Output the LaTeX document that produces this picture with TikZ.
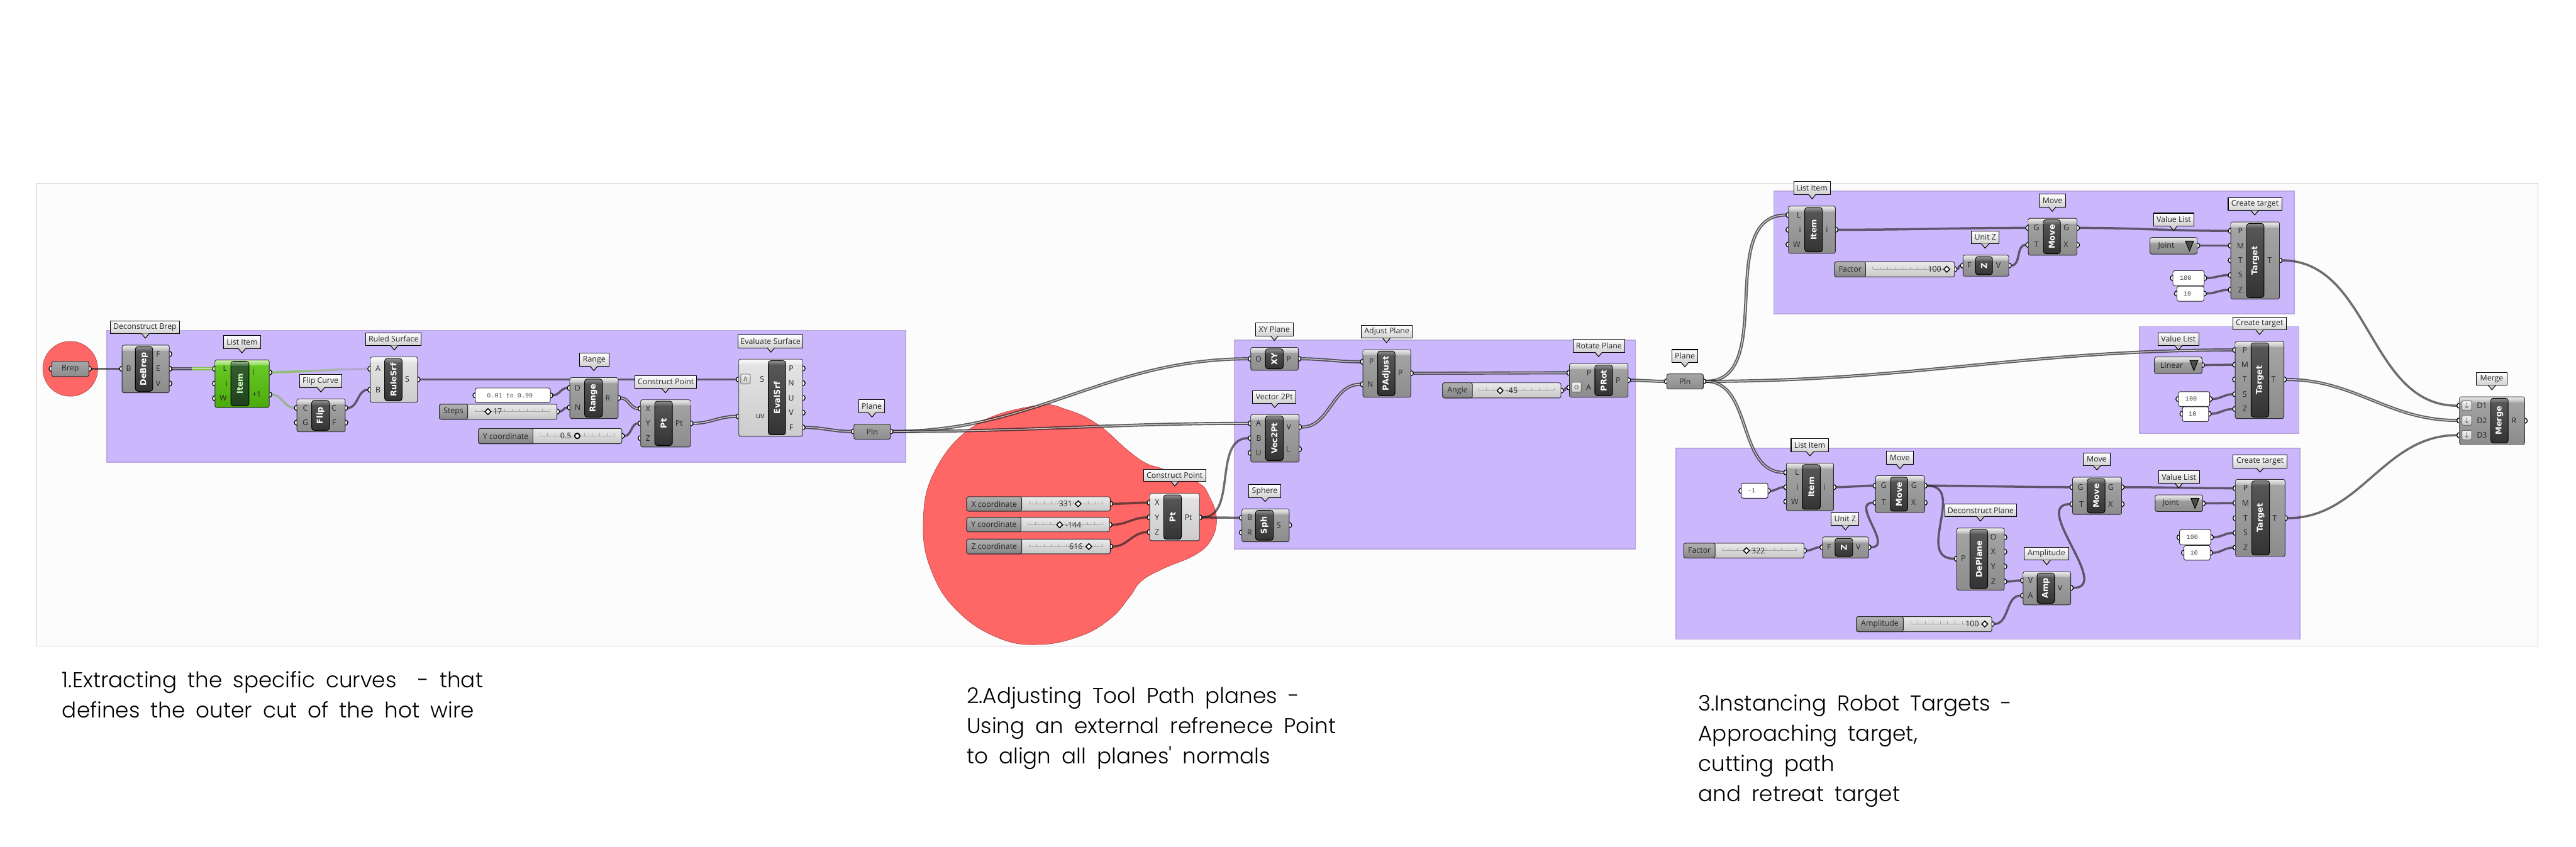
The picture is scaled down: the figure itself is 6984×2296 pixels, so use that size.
\documentclass[tikz,border=0pt]{standalone}
\usepackage{fontspec}
\usetikzlibrary{arrows.meta,positioning,calc,shapes.geometric}
\newfontfamily\gfont{Open Sans}
\newfontfamily\gbold{DejaVu Sans}
\newfontfamily\gmono{Liberation Mono}
\newfontfamily\notefont[WordSpace=1.8]{Poppins Light}
\definecolor{grpviolet}{RGB}{203,183,252}
\definecolor{grpedge}{RGB}{185,165,225}
\definecolor{gwirecol}{RGB}{35,35,35}
\definecolor{gwiregreen}{RGB}{120,195,50}
\definecolor{gedge}{RGB}{40,40,45}
\definecolor{redmark}{RGB}{255,102,102}
\pgfdeclarelayer{bglayer}
\pgfdeclarelayer{wirelayer}
\pgfdeclarelayer{portlayer}
\pgfsetlayers{bglayer,wirelayer,portlayer,main}
\tikzset{
  x=0.01cm, y=-0.01cm,
  graybody/.style={rounded corners=1.4pt, draw=gedge, line width=.45pt, top color=black!35, bottom color=black!45, inner sep=0, outer sep=0},
  litebody/.style={rounded corners=1.4pt, draw=gedge, line width=.45pt, top color=black!10, bottom color=black!20, inner sep=0, outer sep=0},
  limebody/.style={rounded corners=1.4pt, draw=gedge, line width=.45pt, top color={rgb,255:red,105;green,205;blue,40}, bottom color={rgb,255:red,75;green,170;blue,10}, inner sep=0, outer sep=0},
  panelbody/.style={rounded corners=1.4pt, draw=gedge, line width=.45pt, fill=white, inner sep=0, outer sep=0},
  grayband/.style={top color=black!8, bottom color=black!28},
  liteband/.style={top color=black!2, bottom color=black!10},
  limeband/.style={top color={rgb,255:red,205;green,240;blue,170}, bottom color={rgb,255:red,140;green,215;blue,85}},
  graycap/.style={rounded corners=2pt, draw=black, line width=.5pt, top color=black!65, bottom color=black!80, inner sep=0, outer sep=0},
  litecap/.style={graycap},
  limecap/.style={rounded corners=2pt, draw=black, line width=.5pt, top color={rgb,255:red,55;green,95;blue,50}, bottom color={rgb,255:red,30;green,65;blue,30}, inner sep=0, outer sep=0},
  graycapband/.style={top color=black!45, bottom color=black!65},
  litecapband/.style={graycapband},
  limecapband/.style={top color={rgb,255:red,150;green,185;blue,140}, bottom color={rgb,255:red,60;green,100;blue,55}},
  graycaptxt/.style={font=\gbold\bfseries\fontsize{6.2}{7}\selectfont, text=white, inner sep=0},
  litecaptxt/.style={graycaptxt},
  limecaptxt/.style={graycaptxt, text={rgb,255:red,205;green,255;blue,190}},
  gtxt/.style={font=\gfont\fontsize{6}{7}\selectfont, text=black!85, inner sep=0},
  gval/.style={font=\gmono\fontsize{4.9}{6}\selectfont, text=black!75, inner sep=0},
  portnode/.style={circle, draw=black, fill=white, line width=.6pt, minimum size=.14cm, inner sep=0, outer sep=0},
  ballbox/.style={draw=black, line width=.5pt, top color=white, bottom color=black!18, inner sep=0, outer sep=0, font=\gfont\fontsize{6}{7}\selectfont, text=black!85},
  sliderbody/.style={rounded corners=1.4pt, draw=gedge, line width=.45pt, top color=black!8, bottom color=black!22, inner sep=0, outer sep=0},
  sliderlabel/.style={rounded corners=1.4pt, draw=gedge, line width=.45pt, top color=black!30, bottom color=black!48, inner sep=0, outer sep=0, gtxt},
  tickline/.style={draw=black!35, line width=.25pt},
  knobd/.style={diamond, draw=black, fill=white, line width=.7pt, minimum size=.17cm, inner sep=0},
  knobc/.style={circle, draw=black, fill=white, line width=.9pt, minimum width=.1cm, minimum height=.14cm, inner sep=0},
  btnnode/.style={rounded corners=1pt, draw=black!65, line width=.35pt, top color=black!5, bottom color=black!22, inner sep=0, font=\gbold\fontsize{6}{7}\selectfont, text=black!60},
  grpbox/.style={draw=grpedge, line width=.8pt, fill=grpviolet, inner sep=0, outer sep=0},
  framebox/.style={draw=black!18, line width=.7pt, fill=black!1, inner sep=0, outer sep=0},
  redcirc/.style={circle, draw=black!40!redmark, line width=.25pt, fill=redmark, inner sep=0},
  wire/.style={draw=gwirecol, draw opacity=.66, line width=1.7pt},
  listwire/.style={draw=gwirecol, draw opacity=.72, line width=.9pt, double=white, double distance=.6pt},
  notetxt/.style={font=\notefont\fontsize{16.6}{23.3}\selectfont, align=left, anchor=north west, inner sep=0, text=black},
}
\newcommand{\gbox}[6]{%
  \node[#1, minimum width={((#5)-(#3))*0.01cm}, minimum height={((#6)-(#4))*0.01cm}] (#2) at ({((#3)+(#5))/2},{((#4)+(#6))/2}) {};}
\newcommand{\gcomp}[9]{%
  \gbox{#1body}{#2}{#3}{#4}{#5}{#6}
  \path[#1band] (#3+1,#4+15) [rounded corners=1.2pt] -- (#3+1,#4+1) -- (#5-1,#4+1) [sharp corners] -- (#5-1,#4+15) -- cycle;
  \gbox{#1cap}{#2-cap}{#7}{#4+4}{#8}{#6-4}
  \path[#1capband] (#7+1,#4+16) [rounded corners=1.6pt] -- (#7+1,#4+5) -- (#8-1,#4+5) [sharp corners] -- (#8-1,#4+16) -- cycle;
  \node[#1captxt, rotate=90] (#2-name) at (#2-cap.center) {#9};}
\newcommand{\gports}[3]{%
  \foreach \pid/\py/\plab/\lx in {#3}{
    \begin{pgfonlayer}{portlayer}\node[portnode] (#1-\pid) at (#2,\py) {};\end{pgfonlayer}
    \node[gtxt] (#1-\pid-l) at (\lx,\py) {\plab};}}
\newcommand{\gparam}[7]{%
  \gbox{#1}{#2}{#3}{#4}{#5}{#6}
  \node[gtxt] (#2-t) at (#2.center) {#7};}
\newcommand{\gpanel}[6]{%
  \gbox{panelbody}{#1}{#2}{#3}{#4}{#5}
  \node[gval, xshift=-.08cm] (#1-t) at (#1.center) {#6};}
\newcommand{\glist}[8]{%
  \gbox{graybody}{#1}{#2}{#3}{#4}{#5}
  \path[grayband] (#2+1,#3+15) [rounded corners=1.2pt] -- (#2+1,#3+1) -- (#4-1,#3+1) [sharp corners] -- (#4-1,#3+15) -- cycle;
  \node[gtxt] (#1-t) at (#7,{((#3)+(#5))/2}) {#6};
  \draw[fill=black!70, draw=black, line width=.5pt] (#8-11,{((#3)+(#5))/2-13}) -- (#8+11,{((#3)+(#5))/2-13}) -- (#8,{((#3)+(#5))/2+14}) -- cycle;}
\newcommand{\gslider}[7]{%
  \gbox{sliderbody}{#1}{#2}{#3}{#4}{#5}
  \gbox{sliderlabel}{#1-lab}{#2}{#3}{#6}{#5}
  \node[gtxt] (#1-t) at (#1-lab.center) {#7};}
\newcommand{\gknob}[8]{%
  \foreach \tk in {0,...,10}{\draw[tickline] ({#6+(#7-#6)*\tk/10},#8-7) -- ({#6+(#7-#6)*\tk/10},#8);}
  \draw[tickline] (#6,#8) -- (#7,#8);
  \node[gtxt] (#1-val) at (#3,#8) {#2};
  \node[#5] (#1-knob) at (#4,#8) {};}
\newcommand{\gballoon}[8]{%
  \gbox{ballbox}{#1}{#2}{#3}{#4}{#5}
  \node[gtxt] (#1-t) at (#1.center) {#8};
  \fill[black!18] (#6-10,#5-.5) -- (#6,#7) -- (#6+10,#5-.5) -- cycle;
  \draw[black, line width=.5pt] (#6-10,#5) -- (#6,#7) -- (#6+10,#5);}
\begin{document}
\begin{tikzpicture}
  \useasboundingbox (0,0) rectangle (6984,2296);
  \begin{pgfonlayer}{bglayer}
    \gbox{framebox}{frame}{100}{497}{6881}{1752}
    \gbox{grpbox}{grpA}{290}{896}{2455}{1253}
    \gbox{grpbox}{grpB}{3346}{922}{4434}{1489}
    \gbox{grpbox}{grpC}{4809}{518}{6220}{851}
    \gbox{grpbox}{grpD}{5801}{886}{6233}{1175}
    \gbox{grpbox}{grpE}{4544}{1216}{6235}{1733}
    \node[redcirc, minimum size=1.49cm] (brepmark) at (190.5,1000) {};
    \fill[redmark, draw=black!40!redmark, line width=.25pt] plot[smooth cycle, tension=.7] coordinates {
      (2807,1100) (2896,1112) (2979,1153) (3056,1220) (3107,1256) (3151,1271) (3247,1308) (3279,1347) (3298,1404)
      (3285,1461) (3241,1504) (3151,1543) (3094,1576) (3062,1619) (3011,1677) (2928,1725) (2814,1748) (2705,1729)
      (2597,1658) (2527,1552) (2503,1423) (2533,1280) (2641,1155)};
  \end{pgfonlayer}

  % first group
  \gparam{graybody}{brep}{140}{980}{241}{1021}{Brep}
  \gports{brep}{140}{in/1000//0} \gports{brep}{241}{out/1000//0}
  \gcomp{gray}{debrep}{331}{936}{459}{1065}{367}{414}{DeBrep}
  \gports{debrep}{331}{B/1000/B/349}
  \gports{debrep}{459}{F/960/F/429,E/1000/E/429,V/1040/V/429}
  \gcomp{lime}{itema}{583}{976}{730}{1105}{626}{675}{Item}
  \gports{itema}{583}{L/1000/L/610,i/1040/i/614,W/1080/W/605}
  \gports{itema}{730}{o/1010/i/687,p/1070/+1/696}
  \gcomp{gray}{flip}{805}{1082}{936}{1171}{845}{893}{Flip}
  \gports{flip}{805}{C/1106/C/828,G/1146/G/828}
  \gports{flip}{936}{o/1106/C/906,F/1146/F/906}
  \gcomp{lite}{ruled}{1004}{968}{1132}{1091}{1043}{1090}{RuleSrf}
  \gports{ruled}{1004}{A/1000/A/1025,B/1057/B/1025}
  \gports{ruled}{1132}{S/1029/S/1104}
  \gpanel{rngpanel}{1289}{1052}{1492}{1092}{0.01 to 0.99}
  \gports{rngpanel}{1289}{in/1072//0} \gports{rngpanel}{1492}{out/1072//0}
  \gslider{steps}{1191}{1096}{1510}{1137}{1268}{Steps}
  \gknob{steps}{17}{1349}{1323}{knobd}{1287}{1490}{1116}
  \gports{steps}{1510}{out/1116//0}
  \gcomp{gray}{range}{1545}{1024}{1676}{1135}{1585}{1633}{Range}
  \gports{range}{1545}{D/1052/D/1566,N/1105/N/1566}
  \gports{range}{1676}{R/1079/R/1648}
  \gslider{ycoorda}{1297}{1162}{1686}{1203}{1445}{Y coordinate}
  \gknob{ycoorda}{0.5}{1534}{1565}{knobc}{1463}{1666}{1182}
  \gports{ycoorda}{1686}{out/1182//0}
  \gcomp{gray}{pta}{1737}{1084}{1872}{1212}{1775}{1823}{Pt}
  \gports{pta}{1737}{X/1108/X/1757,Y/1148/Y/1757,Z/1188/Z/1757}
  \gports{pta}{1872}{P/1148/Pt/1841}
  \gcomp{lite}{evalsrf}{2003}{974}{2176}{1183}{2083}{2130}{EvalSrf}
  \gports{evalsrf}{2003}{S/1029/S/2066,uv/1129/uv/2061}
  \gports{evalsrf}{2176}{P/999/P/2145,N/1039/N/2145,U/1079/U/2145,V/1119/V/2145,F/1159/F/2145}
  \node[btnnode, minimum width=.26cm, minimum height=.27cm] (evalbtn) at (2021,1028) {∧};
  \gparam{graybody}{plna}{2315}{1150}{2414}{1191}{Pln}
  \gports{plna}{2315}{in/1170//0} \gports{plna}{2414}{out/1170//0}

  % reference point
  \gslider{xref}{2621}{1347}{3010}{1386}{2770}{X coordinate}
  \gknob{xref}{331}{2889}{2923}{knobd}{2790}{2990}{1366}
  \gports{xref}{3010}{out/1366//0}
  \gslider{yref}{2621}{1403}{3008}{1442}{2768}{Y coordinate}
  \gknob{yref}{-144}{2910}{2873}{knobd}{2787}{2988}{1423}
  \gports{yref}{3008}{out/1423//0}
  \gslider{zref}{2621}{1462}{3010}{1502}{2770}{Z coordinate}
  \gknob{zref}{616}{2917}{2952}{knobd}{2790}{2990}{1482}
  \gports{zref}{3010}{out/1482//0}
  \gcomp{lite}{ptb}{3117}{1338}{3252}{1466}{3155}{3203}{Pt}
  \gports{ptb}{3117}{X/1363/X/3137,Y/1403/Y/3137,Z/1443/Z/3137}
  \gports{ptb}{3252}{P/1403/Pt/3222}

  % second group
  \gcomp{gray}{xyp}{3391}{942}{3520}{1004}{3431}{3479}{XY}
  \gports{xyp}{3391}{O/973/O/3412} \gports{xyp}{3520}{P/973/P/3494}
  \gcomp{gray}{padj}{3695}{948}{3825}{1077}{3735}{3782}{PAdjust}
  \gports{padj}{3695}{P/981/P/3718,N/1042/N/3715} \gports{padj}{3825}{o/1012/P/3797}
  \gcomp{gray}{vec}{3391}{1124}{3522}{1253}{3431}{3479}{Vec2Pt}
  \gports{vec}{3391}{A/1148/A/3412,B/1188/B/3413,U/1228/U/3412}
  \gports{vec}{3522}{V/1158/V/3494,L/1218/L/3492}
  \gcomp{gray}{sph}{3367}{1380}{3495}{1469}{3404}{3452}{Sph}
  \gports{sph}{3367}{B/1404/B/3388,R/1444/R/3388} \gports{sph}{3495}{S/1424/S/3467}
  \gslider{angle}{3911}{1038}{4232}{1079}{3992}{Angle}
  \gknob{angle}{-45}{4099}{4067}{knobd}{4009}{4213}{1059}
  \gports{angle}{4232}{out/1059//0}
  \gcomp{gray}{prot}{4255}{986}{4414}{1077}{4324}{4372}{PRot}
  \gports{prot}{4255}{P/1011/P/4308,A/1051/A/4307} \gports{prot}{4414}{o/1031/P/4387}
  \node[btnnode, minimum width=.26cm, minimum height=.27cm] (protbtn) at (4274,1050) {o};
  \gparam{graybody}{plnb}{4519}{1014}{4618}{1055}{Pln}
  \gports{plnb}{4519}{in/1034//0} \gports{plnb}{4618}{out/1034//0}

  % top group
  \gcomp{gray}{itemb}{4849}{559}{4976}{687}{4893}{4941}{Item}
  \gports{itemb}{4849}{L/583/L/4877,i/623/i/4880,W/663/W/4871} \gports{itemb}{4976}{o/623/i/4953}
  \gslider{facta}{4974}{710}{5299}{751}{5058}{Factor}
  \gknob{facta}{100}{5245}{5278}{knobd}{5077}{5279}{730}
  \gports{facta}{5299}{out/730//0}
  \gcomp{gray}{unita}{5322}{692}{5446}{749}{5356}{5402}{Z}
  \gports{unita}{5322}{F/720/F/5339} \gports{unita}{5446}{V/720/V/5418}
  \gcomp{gray}{movea}{5499}{592}{5631}{692}{5540}{5586}{Move}
  \gports{movea}{5499}{G/618/G/5521,T/664/T/5521} \gports{movea}{5631}{o/618/G/5602,X/664/X/5601}
  \glist{jointa}{5829}{644}{5957}{689}{Joint}{5873}{5936}
  \gports{jointa}{5957}{out/666//0}
  \gpanel{spda}{5891}{734}{5976}{775}{100}
  \gports{spda}{5891}{in/754//0} \gports{spda}{5976}{out/754//0}
  \gpanel{zona}{5902}{776}{5975}{817}{10}
  \gports{zona}{5902}{in/796//0} \gports{zona}{5975}{out/796//0}
  \gcomp{gray}{tgta}{6048}{602}{6180}{811}{6091}{6138}{Target}
  \gports{tgta}{6048}{P/626/P/6074,M/666/M/6074,T/706/T/6074,S/746/S/6074,Z/786/Z/6074}
  \gports{tgta}{6180}{o/706/T/6153}

  % middle group
  \glist{linear}{5841}{968}{5970}{1013}{Linear}{5888}{5948}
  \gports{linear}{5970}{out/990//0}
  \gpanel{spdb}{5906}{1062}{5991}{1102}{100}
  \gports{spdb}{5906}{in/1082//0} \gports{spdb}{5991}{out/1082//0}
  \gpanel{zonb}{5917}{1103}{5988}{1143}{10}
  \gports{zonb}{5917}{in/1122//0} \gports{zonb}{5988}{out/1122//0}
  \gcomp{gray}{tgtb}{6060}{926}{6192}{1135}{6103}{6151}{Target}
  \gports{tgtb}{6060}{P/949/P/6086,M/989/M/6086,T/1029/T/6086,S/1069/S/6086,Z/1109/Z/6086}
  \gports{tgtb}{6192}{o/1029/T/6164}

  % bottom group
  \gpanel{idx}{4721}{1310}{4793}{1351}{-1}
  \gports{idx}{4721}{in/1331//0} \gports{idx}{4793}{out/1331//0}
  \gcomp{gray}{itemc}{4843}{1256}{4971}{1385}{4886}{4935}{Item}
  \gports{itemc}{4843}{L/1281/L/4872,i/1321/i/4873,W/1360/W/4866} \gports{itemc}{4971}{o/1321/i/4946}
  \gslider{factb}{4565}{1473}{4891}{1513}{4650}{Factor}
  \gknob{factb}{322}{4767}{4735}{knobd}{4669}{4870}{1493}
  \gports{factb}{4891}{out/1493//0}
  \gcomp{gray}{unitb}{4941}{1456}{5066}{1513}{4975}{5023}{Z}
  \gports{unitb}{4941}{F/1484/F/4959} \gports{unitb}{5066}{V/1484/V/5038}
  \gcomp{gray}{moveb}{5085}{1290}{5218}{1390}{5125}{5172}{Move}
  \gports{moveb}{5085}{G/1317/G/5107,T/1363/T/5107} \gports{moveb}{5218}{o/1317/G/5189,X/1363/X/5188}
  \gcomp{gray}{deplane}{5305}{1432}{5434}{1600}{5341}{5389}{DePlane}
  \gports{deplane}{5305}{P/1515/P/5323}
  \gports{deplane}{5434}{O/1457/O/5404,X/1496/X/5404,Y/1536/Y/5404,Z/1577/Z/5404}
  \gslider{ampl}{5033}{1672}{5400}{1713}{5160}{Amplitude}
  \gknob{ampl}{100}{5347}{5381}{knobd}{5180}{5380}{1692}
  \gports{ampl}{5400}{out/1692//0}
  \gcomp{gray}{amp}{5485}{1550}{5614}{1640}{5523}{5570}{Amp}
  \gports{amp}{5485}{V/1574/V/5505,A/1615/A/5505} \gports{amp}{5614}{o/1594/V/5585}
  \gcomp{gray}{movec}{5619}{1294}{5752}{1395}{5659}{5707}{Move}
  \gports{movec}{5619}{G/1321/G/5640,T/1367/T/5643} \gports{movec}{5752}{o/1321/G/5723,X/1367/X/5722}
  \glist{jointb}{5843}{1342}{5972}{1387}{Joint}{5885}{5951}
  \gports{jointb}{5972}{out/1365//0}
  \gpanel{spdc}{5909}{1436}{5994}{1477}{100}
  \gports{spdc}{5909}{in/1457//0} \gports{spdc}{5994}{out/1457//0}
  \gpanel{zonc}{5921}{1479}{5992}{1519}{10}
  \gports{zonc}{5921}{in/1499//0} \gports{zonc}{5992}{out/1499//0}
  \gcomp{gray}{tgtc}{6061}{1300}{6195}{1509}{6105}{6153}{Target}
  \gports{tgtc}{6061}{P/1324/P/6088,M/1364/M/6088,T/1405/T/6088,S/1445/S/6088,Z/1485/Z/6088}
  \gports{tgtc}{6195}{o/1405/T/6167}

  \gcomp{gray}{merge}{6668}{1076}{6845}{1205}{6753}{6800}{Merge}
  \gports{merge}{6668}{A/1100/D1/6729,B/1140/D2/6729,C/1180/D3/6729}
  \gports{merge}{6845}{R/1141/R/6816}
  \foreach \by/\bn in {1100/bd1,1140/bd2,1180/bd3}{
    \node[btnnode, minimum width=.26cm, minimum height=.26cm] (\bn) at (6688,\by) {↓};}

  % balloons
  \gballoon{tipA}{300}{870}{486}{905}{394}{917}{Deconstruct Brep}
  \gballoon{tipB}{606}{910}{707}{945}{656}{957}{List Item}
  \gballoon{tipC}{992}{902}{1142}{937}{1069}{949}{Ruled Surface}
  \gballoon{tipD}{812}{1016}{926}{1051}{870}{1063}{Flip Curve}
  \gballoon{tipE}{1571}{958}{1651}{993}{1610}{1005}{Range}
  \gballoon{tipF}{1721}{1018}{1889}{1053}{1804}{1065}{Construct Point}
  \gballoon{tipG}{2001}{908}{2177}{943}{2090}{955}{Evaluate Surface}
  \gballoon{tipH}{2329}{1084}{2398}{1119}{2364}{1131}{Plane}
  \gballoon{tipI}{3100}{1272}{3269}{1306}{3185}{1318}{Construct Point}
  \gballoon{tipJ}{3404}{876}{3506}{911}{3455}{923}{XY Plane}
  \gballoon{tipK}{3691}{882}{3829}{917}{3759}{929}{Adjust Plane}
  \gballoon{tipL}{3396}{1059}{3514}{1093}{3456}{1105}{Vector 2Pt}
  \gballoon{tipM}{3386}{1314}{3472}{1349}{3430}{1360}{Sphere}
  \gballoon{tipN}{4265}{920}{4405}{955}{4334}{967}{Rotate Plane}
  \gballoon{tipO}{4533}{948}{4603}{983}{4568}{995}{Plane}
  \gballoon{tipP}{4863}{492}{4962}{527}{4913}{539}{List Item}
  \gballoon{tipQ}{5529}{526}{5600}{561}{5564}{573}{Move}
  \gballoon{tipR}{5345}{626}{5420}{661}{5382}{673}{Unit Z}
  \gballoon{tipS}{5839}{578}{5948}{613}{5893}{625}{Value List}
  \gballoon{tipT}{6041}{536}{6186}{571}{6113}{583}{Create target}
  \gballoon{tipU}{5851}{902}{5961}{937}{5906}{949}{Value List}
  \gballoon{tipV}{6053}{860}{6199}{895}{6126}{907}{Create target}
  \gballoon{tipW}{4856}{1190}{4957}{1225}{4907}{1236}{List Item}
  \gballoon{tipX}{5114}{1224}{5187}{1259}{5151}{1271}{Move}
  \gballoon{tipY}{4965}{1390}{5040}{1425}{5003}{1437}{Unit Z}
  \gballoon{tipZ}{5273}{1367}{5467}{1401}{5369}{1413}{Deconstruct Plane}
  \gballoon{tipAa}{5488}{1484}{5608}{1519}{5549}{1531}{Amplitude}
  \gballoon{tipAb}{5648}{1228}{5721}{1263}{5685}{1274}{Move}
  \gballoon{tipAc}{5852}{1276}{5963}{1311}{5907}{1323}{Value List}
  \gballoon{tipAd}{6054}{1234}{6201}{1269}{6127}{1280}{Create target}
  \gballoon{tipAe}{6714}{1010}{6797}{1045}{6756}{1057}{Merge}

  % connectors
  \begin{pgfonlayer}{wirelayer}
    \coordinate (dbmid) at (520,1000);
    \coordinate (itmid) at (845,1006);
    \coordinate (itmid2) at (922,1002);
    \draw[wire] (brep-out) -- (debrep-B);
    \draw[listwire] (debrep-E) -- (dbmid);
    \draw[listwire, draw=gwiregreen, draw opacity=.9] (dbmid) -- (itema-L);
    \draw[wire, draw=gwiregreen] (itema-o) -- (itmid);
    \draw[wire, draw={rgb,255:red,150;green,180;blue,120}] (itmid) -- (itmid2);
    \draw[wire, draw={rgb,255:red,165;green,160;blue,190}] (itmid2) -- (ruled-A);
    \draw[wire, draw={rgb,255:red,135;green,175;blue,100}] (itema-p) to[out=0,in=180] (flip-C);
    \draw[wire] (flip-o) to[out=0,in=180] (ruled-B);
    \draw[wire] (ruled-S) -- (evalsrf-S);
    \draw[wire] (rngpanel-out) to[out=0,in=180] (range-D);
    \draw[wire] (steps-out) to[out=0,in=180] (range-N);
    \draw[listwire] (range-R) to[out=0,in=180] (pta-X);
    \draw[wire] (ycoorda-out) to[out=0,in=180] (pta-Y);
    \draw[listwire] (pta-P) to[out=0,in=180] (evalsrf-uv);
    \draw[listwire] (evalsrf-F) to[out=0,in=180] (plna-in);
    \draw[listwire] (plna-out) to[out=0,in=180] (xyp-O);
    \draw[listwire] (plna-out) to[out=0,in=180] (vec-A);
    \draw[wire] (xref-out) to[out=0,in=180] (ptb-X);
    \draw[wire] (yref-out) to[out=0,in=180] (ptb-Y);
    \draw[wire] (zref-out) to[out=0,in=180] (ptb-Z);
    \draw[wire] (ptb-P) to[out=0,in=180] (vec-B);
    \draw[wire] (ptb-P) -- (sph-B);
    \draw[listwire] (xyp-P) to[out=0,in=180] (padj-P);
    \draw[listwire] (vec-V) to[out=0,in=180] (padj-N);
    \draw[listwire] (padj-o) to[out=0,in=180] (prot-P);
    \draw[wire] (angle-out) to[out=0,in=180] (prot-A);
    \draw[listwire] (prot-o) to[out=0,in=180] (plnb-in);
    \draw[listwire] (plnb-out) to[out=0,in=180] (itemb-L);
    \draw[listwire] (plnb-out) to[out=0,in=180] (tgtb-P);
    \draw[listwire] (plnb-out) to[out=0,in=180] (itemc-L);
    \draw[wire] (itemb-o) to[out=0,in=180] (movea-G);
    \draw[wire] (facta-out) to[out=0,in=180] (unita-F);
    \draw[wire] (unita-V) to[out=0,in=180] (movea-T);
    \draw[wire] (movea-o) to[out=0,in=180] (tgta-P);
    \draw[wire] (jointa-out) -- (tgta-M);
    \draw[wire] (spda-out) to[out=0,in=180] (tgta-S);
    \draw[wire] (zona-out) to[out=0,in=180] (tgta-Z);
    \draw[wire] (linear-out) -- (tgtb-M);
    \draw[wire] (spdb-out) to[out=0,in=180] (tgtb-S);
    \draw[wire] (zonb-out) to[out=0,in=180] (tgtb-Z);
    \draw[wire] (idx-out) to[out=0,in=180] (itemc-i);
    \draw[wire] (itemc-o) to[out=0,in=180] (moveb-G);
    \draw[wire] (factb-out) to[out=0,in=180] (unitb-F);
    \draw[wire] (unitb-V) to[out=0,in=180,looseness=1.3] (moveb-T);
    \draw[wire] (moveb-o) to[out=0,in=180] (movec-G);
    \draw[wire] (moveb-o) to[out=0,in=180,looseness=1.3] (deplane-P);
    \draw[wire] (deplane-Z) to[out=0,in=180] (amp-V);
    \draw[wire] (ampl-out) to[out=0,in=180] (amp-A);
    \draw[wire] (amp-o) to[out=0,in=180,looseness=1.2] (movec-T);
    \draw[wire] (movec-o) to[out=0,in=180] (tgtc-P);
    \draw[wire] (jointb-out) -- (tgtc-M);
    \draw[wire] (spdc-out) to[out=0,in=180] (tgtc-S);
    \draw[wire] (zonc-out) to[out=0,in=180] (tgtc-Z);
    \draw[wire] (tgta-o) to[out=0,in=180] (merge-A);
    \draw[listwire] (tgtb-o) to[out=0,in=180] (merge-B);
    \draw[wire] (tgtc-o) to[out=0,in=180] (merge-C);
  \end{pgfonlayer}

  % notes
  \node[notetxt] (noteA) at (168,1820) {1.Extracting the specific curves~~- that\\defines the outer cut of the hot wire};
  \node[notetxt] (noteB) at (2620,1862) {2.Adjusting Tool Path planes -\\Using an external refrenece Point\\to align all planes' normals};
  \node[notetxt] (noteC) at (4604,1883) {3.Instancing Robot Targets -\\Approaching target,\\cutting path\\and retreat target};
\end{tikzpicture}
\end{document}
